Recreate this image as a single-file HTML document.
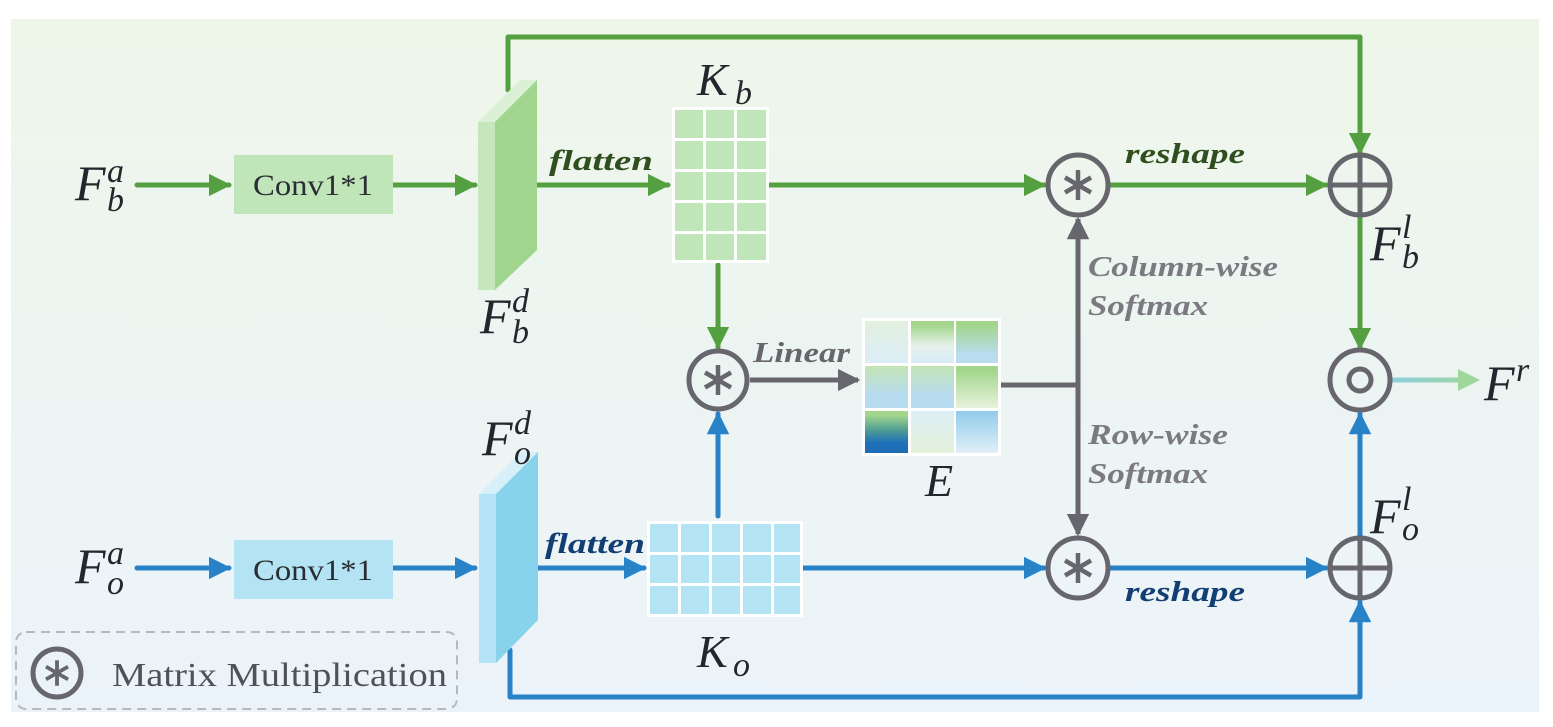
<!DOCTYPE html>
<html><head><meta charset="utf-8"><style>
html,body{margin:0;padding:0;background:#fff;}
svg{display:block}
.m{font-family:"Liberation Serif",serif;font-style:italic;fill:#23262d}
.lb{font-family:"Liberation Serif",serif;font-style:italic;font-weight:bold;font-size:29px}
</style></head><body>
<svg width="1553" height="727" viewBox="0 0 1553 727" xmlns="http://www.w3.org/2000/svg">
<defs>
<linearGradient id="bg" x1="0" y1="0" x2="0" y2="1"><stop offset="0" stop-color="#eef6ea"/><stop offset="1" stop-color="#ebf3fa"/></linearGradient>
<linearGradient id="out" gradientUnits="userSpaceOnUse" x1="1392" y1="0" x2="1480" y2="0"><stop offset="0" stop-color="#8fcfe0"/><stop offset="1" stop-color="#9fd69a"/></linearGradient>
<linearGradient id="e1" x1="0" y1="0" x2="0" y2="1"><stop offset="0" stop-color="#e2f0dd"/><stop offset="1" stop-color="#dcedf8"/></linearGradient>
<linearGradient id="e2" x1="0" y1="0" x2="0" y2="1"><stop offset="0.1" stop-color="#a3d68c"/><stop offset="0.6" stop-color="#e6f1ea"/><stop offset="1" stop-color="#d9ecf9"/></linearGradient>
<linearGradient id="e3" x1="0" y1="0" x2="0" y2="1"><stop offset="0.1" stop-color="#a3d68c"/><stop offset="0.8" stop-color="#b9dcf0"/></linearGradient>
<linearGradient id="e4" x1="0" y1="0" x2="0" y2="1"><stop offset="0" stop-color="#c3e4b4"/><stop offset="0.7" stop-color="#b7dcf0"/></linearGradient>
<linearGradient id="e6" x1="0" y1="0" x2="0" y2="1"><stop offset="0.1" stop-color="#a3d68c"/><stop offset="1" stop-color="#e7f2dc"/></linearGradient>
<linearGradient id="e7" x1="0" y1="0" x2="0" y2="1"><stop offset="0.1" stop-color="#a3d68c"/><stop offset="0.45" stop-color="#4f9e93"/><stop offset="0.75" stop-color="#1f72b8"/><stop offset="1" stop-color="#1b6bb5"/></linearGradient>
<linearGradient id="e8" x1="0" y1="0" x2="0" y2="1"><stop offset="0" stop-color="#ddedf6"/><stop offset="1" stop-color="#e4f1da"/></linearGradient>
<linearGradient id="e9" x1="0" y1="0" x2="0" y2="1"><stop offset="0" stop-color="#92cbea"/><stop offset="1" stop-color="#e0eff9"/></linearGradient>
<marker id="ag" viewBox="0 0 10 10" refX="9" refY="5" markerWidth="4.5" markerHeight="4.5" orient="auto" markerUnits="strokeWidth"><path d="M0,0 L10,5 L0,10 z" fill="#54a040"/></marker>
<marker id="ab" viewBox="0 0 10 10" refX="9" refY="5" markerWidth="4.5" markerHeight="4.5" orient="auto" markerUnits="strokeWidth"><path d="M0,0 L10,5 L0,10 z" fill="#2882c8"/></marker>
<marker id="ay" viewBox="0 0 10 10" refX="9" refY="5" markerWidth="4.5" markerHeight="4.5" orient="auto" markerUnits="strokeWidth"><path d="M0,0 L10,5 L0,10 z" fill="#66666c"/></marker>
<g id="ast" stroke="#66666c" stroke-width="4.5" stroke-linecap="butt"><line x1="0" y1="-15" x2="0" y2="15"/><line x1="-13" y1="-7.5" x2="13" y2="7.5"/><line x1="-13" y1="7.5" x2="13" y2="-7.5"/></g>
</defs>
<rect x="11" y="19" width="1528" height="693" fill="url(#bg)"/>

<g fill="none" stroke="#54a040" stroke-width="5" stroke-linecap="round" stroke-linejoin="round">
<path d="M508,90 V37 H1360 V153" marker-end="url(#ag)"/>
<path d="M137,185 H229" marker-end="url(#ag)"/>
<path d="M393,185 H475" marker-end="url(#ag)"/>
<path d="M525,185 H668" marker-end="url(#ag)"/>
<path d="M768,185 H1044" marker-end="url(#ag)"/>
<path d="M1110,185 H1326" marker-end="url(#ag)"/>
<path d="M718,265 V347" marker-end="url(#ag)"/>
<path d="M1360,217 V348" marker-end="url(#ag)"/>
</g>
<g fill="none" stroke="#2882c8" stroke-width="5" stroke-linecap="round" stroke-linejoin="round">
<path d="M137,568 H229" marker-end="url(#ab)"/>
<path d="M393,568 H475" marker-end="url(#ab)"/>
<path d="M520,568 H644" marker-end="url(#ab)"/>
<path d="M802,568 H1044" marker-end="url(#ab)"/>
<path d="M1110,568 H1326" marker-end="url(#ab)"/>
<path d="M718,516 V414" marker-end="url(#ab)"/>
<path d="M1360,536 V414" marker-end="url(#ab)"/>
<path d="M510,650 V697 H1360 V602" marker-end="url(#ab)"/>
</g>
<g fill="none" stroke="#66666c" stroke-width="5">
<path d="M750,380 H858" marker-end="url(#ay)"/>
<path d="M1001,385 H1078"/>
<path d="M1078,300 V219" marker-end="url(#ay)"/>
<path d="M1078,300 V534" marker-end="url(#ay)"/>
</g>
<rect x="1392" y="377.5" width="72" height="5" fill="url(#out)"/>
<path d="M1458,369 L1480,380 L1458,391 z" fill="#9fd69a"/>

<rect x="234" y="155" width="159" height="59" fill="#c0e5b8"/>
<text x="313" y="195" text-anchor="middle" font-family="Liberation Serif,serif" font-size="30" fill="#2a2d33" textLength="120" lengthAdjust="spacingAndGlyphs">Conv1*1</text>
<rect x="234" y="540" width="159" height="59" fill="#b4e4f4"/>
<text x="313" y="580" text-anchor="middle" font-family="Liberation Serif,serif" font-size="30" fill="#2a2d33" textLength="120" lengthAdjust="spacingAndGlyphs">Conv1*1</text>

<polygon points="478,122 495,122 537,80 520,80" fill="#dcf0d6"/>
<rect x="478" y="122" width="17" height="168" fill="#c6e6bc"/>
<polygon points="495,122 537,80 537,250 495,290" fill="#9fd58c"/>
<polygon points="479,494 496,494 538,452 521,452" fill="#d6eff9"/>
<rect x="479" y="494" width="17" height="169" fill="#b3e3f4"/>
<polygon points="496,494 538,452 538,620 496,663" fill="#88d3ec"/>

<rect x="672" y="107" width="97" height="156" fill="#fff"/>
<g fill="#c0e5b8">
<rect x="675" y="110" width="28" height="28"/><rect x="706" y="110" width="28" height="28"/><rect x="737" y="110" width="29" height="28"/>
<rect x="675" y="141" width="28" height="28"/><rect x="706" y="141" width="28" height="28"/><rect x="737" y="141" width="29" height="28"/>
<rect x="675" y="172" width="28" height="28"/><rect x="706" y="172" width="28" height="28"/><rect x="737" y="172" width="29" height="28"/>
<rect x="675" y="203" width="28" height="28"/><rect x="706" y="203" width="28" height="28"/><rect x="737" y="203" width="29" height="28"/>
<rect x="675" y="234" width="28" height="26"/><rect x="706" y="234" width="28" height="26"/><rect x="737" y="234" width="29" height="26"/>
</g>
<rect x="647" y="521" width="156" height="96" fill="#fff"/>
<g fill="#b4e4f4">
<rect x="650" y="524" width="28" height="28"/><rect x="681" y="524" width="28" height="28"/><rect x="712" y="524" width="28" height="28"/><rect x="743" y="524" width="28" height="28"/><rect x="774" y="524" width="26" height="28"/>
<rect x="650" y="555" width="28" height="28"/><rect x="681" y="555" width="28" height="28"/><rect x="712" y="555" width="28" height="28"/><rect x="743" y="555" width="28" height="28"/><rect x="774" y="555" width="26" height="28"/>
<rect x="650" y="586" width="28" height="28"/><rect x="681" y="586" width="28" height="28"/><rect x="712" y="586" width="28" height="28"/><rect x="743" y="586" width="28" height="28"/><rect x="774" y="586" width="26" height="28"/>
</g>
<rect x="862" y="318" width="139" height="138" fill="#fff"/>
<rect x="865" y="321" width="43" height="42" fill="url(#e1)"/><rect x="911" y="321" width="43" height="42" fill="url(#e2)"/><rect x="956" y="321" width="42" height="42" fill="url(#e3)"/>
<rect x="865" y="366" width="43" height="42" fill="url(#e4)"/><rect x="911" y="366" width="43" height="42" fill="url(#e4)"/><rect x="956" y="366" width="42" height="42" fill="url(#e6)"/>
<rect x="865" y="411" width="43" height="42" fill="url(#e7)"/><rect x="911" y="411" width="43" height="42" fill="url(#e8)"/><rect x="956" y="411" width="42" height="42" fill="url(#e9)"/>

<g fill="none" stroke="#66666c" stroke-width="5">
<circle cx="718" cy="380" r="29"/>
<circle cx="1078" cy="185" r="30"/>
<circle cx="1078" cy="568" r="30"/>
<circle cx="1360" cy="185" r="30"/><path d="M1330,185 H1390 M1360,155 V215"/>
<circle cx="1360" cy="568" r="30"/><path d="M1330,568 H1390 M1360,538 V598"/>
<circle cx="1360" cy="380" r="30"/><circle cx="1360" cy="380" r="11"/>
</g>
<use href="#ast" x="718" y="380"/>
<use href="#ast" x="1078" y="185"/>
<use href="#ast" x="1078" y="568"/>

<text class="lb" x="549" y="170" fill="#2f4f1e" textLength="104" lengthAdjust="spacingAndGlyphs">flatten</text>
<text class="lb" x="545" y="553" fill="#123f73" textLength="100" lengthAdjust="spacingAndGlyphs">flatten</text>
<text class="lb" x="1125" y="163" fill="#2f4f1e" textLength="120" lengthAdjust="spacingAndGlyphs">reshape</text>
<text class="lb" x="1125" y="601" fill="#123f73" textLength="120" lengthAdjust="spacingAndGlyphs">reshape</text>
<text class="lb" x="753" y="362" fill="#66666c" textLength="97" lengthAdjust="spacingAndGlyphs">Linear</text>
<text class="lb" x="1088" y="276" fill="#7a7a80" textLength="190" lengthAdjust="spacingAndGlyphs">Column-wise</text>
<text class="lb" x="1088" y="315" fill="#7a7a80" textLength="120" lengthAdjust="spacingAndGlyphs">Softmax</text>
<text class="lb" x="1088" y="444" fill="#7a7a80" textLength="140" lengthAdjust="spacingAndGlyphs">Row-wise</text>
<text class="lb" x="1088" y="483" fill="#7a7a80" textLength="120" lengthAdjust="spacingAndGlyphs">Softmax</text>

<g class="m">
<text x="75" y="200" font-size="50">F</text><text x="107" y="182" font-size="34">a</text><text x="107" y="211" font-size="34">b</text>
<text x="75" y="583" font-size="50">F</text><text x="107" y="564" font-size="34">a</text><text x="107" y="594" font-size="34">o</text>
<text x="480" y="333" font-size="50">F</text><text x="512" y="312" font-size="34">d</text><text x="512" y="343" font-size="34">b</text>
<text x="482" y="455" font-size="50">F</text><text x="514" y="434" font-size="34">d</text><text x="514" y="464" font-size="34">o</text>
<text x="697" y="95" font-size="46">K</text><text x="735" y="104" font-size="34">b</text>
<text x="697" y="667" font-size="46">K</text><text x="733" y="676" font-size="34">o</text>
<text x="925" y="496" font-size="46">E</text>
<text x="1370" y="260" font-size="50">F</text><text x="1402" y="238" font-size="34">l</text><text x="1402" y="268" font-size="34">b</text>
<text x="1370" y="533" font-size="50">F</text><text x="1402" y="510" font-size="34">l</text><text x="1402" y="540" font-size="34">o</text>
<text x="1484" y="400" font-size="50">F</text><text x="1516" y="381" font-size="34">r</text>
</g>

<rect x="16" y="632" width="441" height="77" rx="10" fill="none" stroke="#b8b8b8" stroke-width="2" stroke-dasharray="9,6"/>
<circle cx="57" cy="673" r="24" fill="none" stroke="#66666c" stroke-width="5"/>
<g transform="translate(57,673) scale(0.85)"><use href="#ast"/></g>
<text x="112" y="686" font-family="Liberation Serif,serif" font-size="34" fill="#505058" textLength="335" lengthAdjust="spacingAndGlyphs">Matrix Multiplication</text>
</svg>
</body></html>
